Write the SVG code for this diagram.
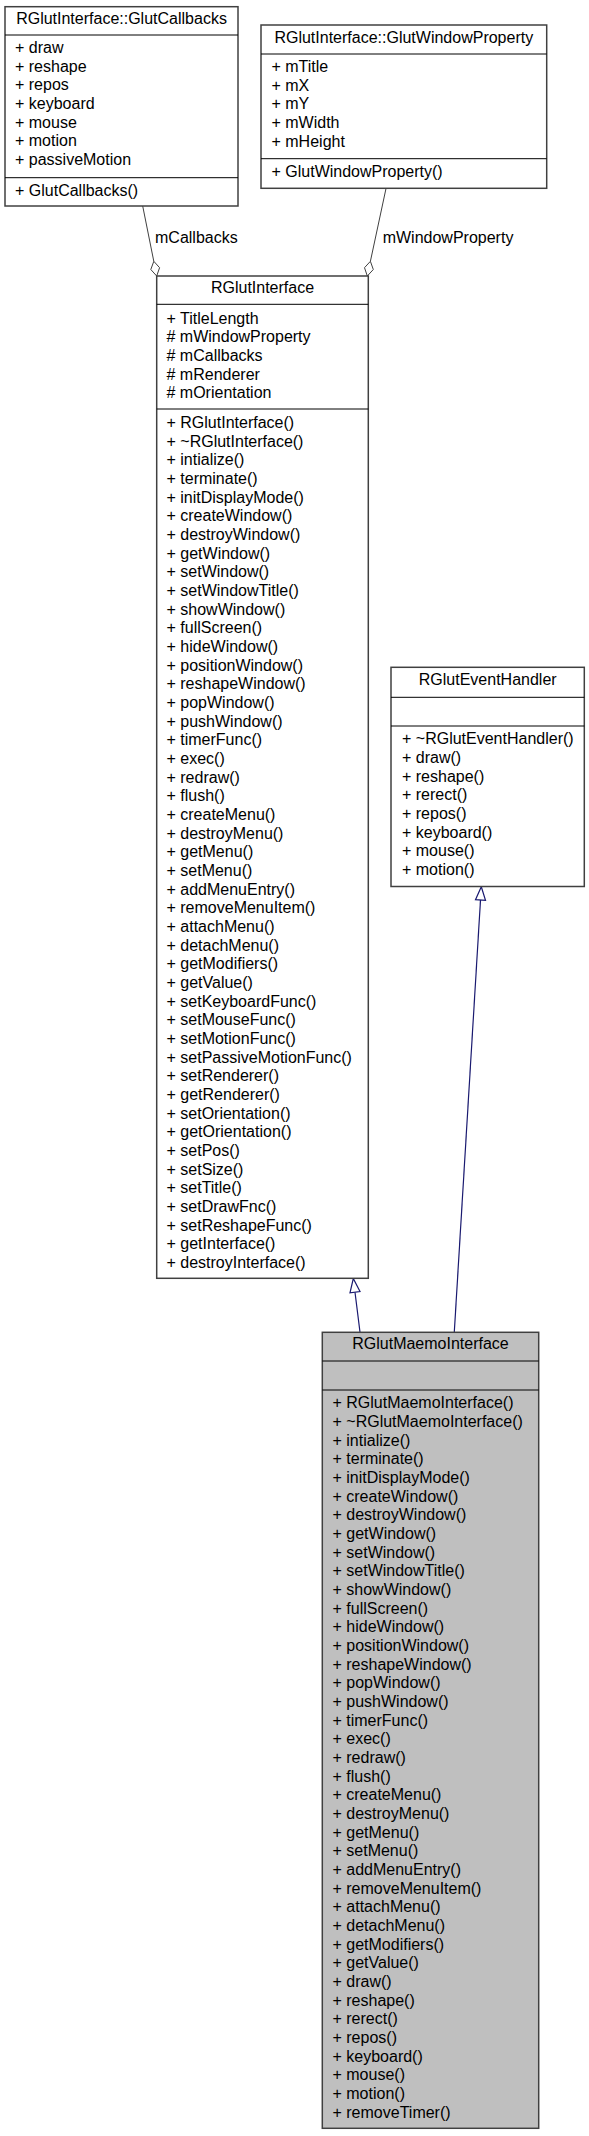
<svg xmlns="http://www.w3.org/2000/svg" width="589" height="2136" viewBox="0 0 589 2136">
<style>
text{font-family:"Liberation Sans",Arial,sans-serif;font-size:16px;fill:#000}
.hd{text-anchor:middle}
.box{fill:#fff;stroke:#404040;stroke-width:1.5}
.cur{fill:#bfbfbf;stroke:#404040;stroke-width:1.5}
.sep{stroke:#000;stroke-width:1}
.agg{fill:none;stroke:#404040;stroke-width:1}
.dia{fill:#fff;stroke:#404040;stroke-width:1}
.inh{fill:none;stroke:#191970;stroke-width:1.2}
.tri{fill:#fff;stroke:#191970;stroke-width:1.2}
</style>
<rect width="589" height="2136" fill="#fff"/>
<g id="connectors">
<path class="agg" d="M142.7,206 L153.8,261.3"/>
<polygon class="dia" points="153.8,261.3 159.6,267.7 156.7,276 150.8,269.5"/>
<text x="155" y="243.3">mCallbacks</text>
<path class="agg" d="M386,188.5 L370.4,261.3"/>
<polygon class="dia" points="370.4,261.3 373.3,269.5 367.3,276 364.5,267.7"/>
<text x="382.7" y="243.3">mWindowProperty</text>
<path class="inh" d="M360,1332 L355,1292.2"/>
<polygon class="tri" points="353.3,1278.6 360,1291.6 350,1292.8"/>
<path class="inh" d="M454.3,1332 L480.5,900"/>
<polygon class="tri" points="481.3,886.8 485.5,900.3 475.5,899.7"/>
</g>
<g id="GlutCallbacks">
<rect class="box" x="5" y="6.7" width="233" height="199.3"/>
<line class="sep" x1="5" y1="35" x2="238" y2="35"/>
<line class="sep" x1="5" y1="177.7" x2="238" y2="177.7"/>
<text class="hd" x="121.5" y="23.5">RGlutInterface::GlutCallbacks</text>
<text x="15" y="53"><tspan x="15">+ draw</tspan><tspan x="15" dy="18.67">+ reshape</tspan><tspan x="15" dy="18.67">+ repos</tspan><tspan x="15" dy="18.67">+ keyboard</tspan><tspan x="15" dy="18.67">+ mouse</tspan><tspan x="15" dy="18.67">+ motion</tspan><tspan x="15" dy="18.67">+ passiveMotion</tspan></text>
<text x="15" y="196">+ GlutCallbacks()</text>
</g>
<g id="GlutWindowProperty">
<rect class="box" x="261" y="25" width="285.7" height="163.3"/>
<line class="sep" x1="261" y1="54" x2="546.7" y2="54"/>
<line class="sep" x1="261" y1="158.7" x2="546.7" y2="158.7"/>
<text class="hd" x="403.8" y="43.3">RGlutInterface::GlutWindowProperty</text>
<text x="271.5" y="72"><tspan x="271.5">+ mTitle</tspan><tspan x="271.5" dy="18.67">+ mX</tspan><tspan x="271.5" dy="18.67">+ mY</tspan><tspan x="271.5" dy="18.67">+ mWidth</tspan><tspan x="271.5" dy="18.67">+ mHeight</tspan></text>
<text x="271.5" y="177.3">+ GlutWindowProperty()</text>
</g>
<g id="RGlutInterface">
<rect class="box" x="156.7" y="276" width="211.6" height="1002.3"/>
<line class="sep" x1="156.7" y1="304.3" x2="368.3" y2="304.3"/>
<line class="sep" x1="156.7" y1="409" x2="368.3" y2="409"/>
<text class="hd" x="262.5" y="292.7">RGlutInterface</text>
<text x="166.5" y="323.6"><tspan x="166.5">+ TitleLength</tspan><tspan x="166.5" dy="18.67"># mWindowProperty</tspan><tspan x="166.5" dy="18.67"># mCallbacks</tspan><tspan x="166.5" dy="18.67"># mRenderer</tspan><tspan x="166.5" dy="18.67"># mOrientation</tspan></text>
<text x="166.5" y="428"><tspan x="166.5">+ RGlutInterface()</tspan><tspan x="166.5" dy="18.67">+ ~RGlutInterface()</tspan><tspan x="166.5" dy="18.67">+ intialize()</tspan><tspan x="166.5" dy="18.67">+ terminate()</tspan><tspan x="166.5" dy="18.67">+ initDisplayMode()</tspan><tspan x="166.5" dy="18.67">+ createWindow()</tspan><tspan x="166.5" dy="18.67">+ destroyWindow()</tspan><tspan x="166.5" dy="18.67">+ getWindow()</tspan><tspan x="166.5" dy="18.67">+ setWindow()</tspan><tspan x="166.5" dy="18.67">+ setWindowTitle()</tspan><tspan x="166.5" dy="18.67">+ showWindow()</tspan><tspan x="166.5" dy="18.67">+ fullScreen()</tspan><tspan x="166.5" dy="18.67">+ hideWindow()</tspan><tspan x="166.5" dy="18.67">+ positionWindow()</tspan><tspan x="166.5" dy="18.67">+ reshapeWindow()</tspan><tspan x="166.5" dy="18.67">+ popWindow()</tspan><tspan x="166.5" dy="18.67">+ pushWindow()</tspan><tspan x="166.5" dy="18.67">+ timerFunc()</tspan><tspan x="166.5" dy="18.67">+ exec()</tspan><tspan x="166.5" dy="18.67">+ redraw()</tspan><tspan x="166.5" dy="18.67">+ flush()</tspan><tspan x="166.5" dy="18.67">+ createMenu()</tspan><tspan x="166.5" dy="18.67">+ destroyMenu()</tspan><tspan x="166.5" dy="18.67">+ getMenu()</tspan><tspan x="166.5" dy="18.67">+ setMenu()</tspan><tspan x="166.5" dy="18.67">+ addMenuEntry()</tspan><tspan x="166.5" dy="18.67">+ removeMenuItem()</tspan><tspan x="166.5" dy="18.67">+ attachMenu()</tspan><tspan x="166.5" dy="18.67">+ detachMenu()</tspan><tspan x="166.5" dy="18.67">+ getModifiers()</tspan><tspan x="166.5" dy="18.67">+ getValue()</tspan><tspan x="166.5" dy="18.67">+ setKeyboardFunc()</tspan><tspan x="166.5" dy="18.67">+ setMouseFunc()</tspan><tspan x="166.5" dy="18.67">+ setMotionFunc()</tspan><tspan x="166.5" dy="18.67">+ setPassiveMotionFunc()</tspan><tspan x="166.5" dy="18.67">+ setRenderer()</tspan><tspan x="166.5" dy="18.67">+ getRenderer()</tspan><tspan x="166.5" dy="18.67">+ setOrientation()</tspan><tspan x="166.5" dy="18.67">+ getOrientation()</tspan><tspan x="166.5" dy="18.67">+ setPos()</tspan><tspan x="166.5" dy="18.67">+ setSize()</tspan><tspan x="166.5" dy="18.67">+ setTitle()</tspan><tspan x="166.5" dy="18.67">+ setDrawFnc()</tspan><tspan x="166.5" dy="18.67">+ setReshapeFunc()</tspan><tspan x="166.5" dy="18.67">+ getInterface()</tspan><tspan x="166.5" dy="18.67">+ destroyInterface()</tspan></text>
</g>
<g id="RGlutEventHandler">
<rect class="box" x="391" y="667.3" width="193.3" height="219.2"/>
<line class="sep" x1="391" y1="697.3" x2="584.3" y2="697.3"/>
<line class="sep" x1="391" y1="726" x2="584.3" y2="726"/>
<text class="hd" x="487.7" y="685">RGlutEventHandler</text>
<text x="402" y="744.3"><tspan x="402">+ ~RGlutEventHandler()</tspan><tspan x="402" dy="18.67">+ draw()</tspan><tspan x="402" dy="18.67">+ reshape()</tspan><tspan x="402" dy="18.67">+ rerect()</tspan><tspan x="402" dy="18.67">+ repos()</tspan><tspan x="402" dy="18.67">+ keyboard()</tspan><tspan x="402" dy="18.67">+ mouse()</tspan><tspan x="402" dy="18.67">+ motion()</tspan></text>
</g>
<g id="RGlutMaemoInterface">
<rect class="cur" x="322.3" y="1332.3" width="216.4" height="796"/>
<line class="sep" x1="322.3" y1="1361" x2="538.7" y2="1361"/>
<line class="sep" x1="322.3" y1="1390" x2="538.7" y2="1390"/>
<text class="hd" x="430.5" y="1349.3">RGlutMaemoInterface</text>
<text x="332.5" y="1408.3"><tspan x="332.5">+ RGlutMaemoInterface()</tspan><tspan x="332.5" dy="18.67">+ ~RGlutMaemoInterface()</tspan><tspan x="332.5" dy="18.67">+ intialize()</tspan><tspan x="332.5" dy="18.67">+ terminate()</tspan><tspan x="332.5" dy="18.67">+ initDisplayMode()</tspan><tspan x="332.5" dy="18.67">+ createWindow()</tspan><tspan x="332.5" dy="18.67">+ destroyWindow()</tspan><tspan x="332.5" dy="18.67">+ getWindow()</tspan><tspan x="332.5" dy="18.67">+ setWindow()</tspan><tspan x="332.5" dy="18.67">+ setWindowTitle()</tspan><tspan x="332.5" dy="18.67">+ showWindow()</tspan><tspan x="332.5" dy="18.67">+ fullScreen()</tspan><tspan x="332.5" dy="18.67">+ hideWindow()</tspan><tspan x="332.5" dy="18.67">+ positionWindow()</tspan><tspan x="332.5" dy="18.67">+ reshapeWindow()</tspan><tspan x="332.5" dy="18.67">+ popWindow()</tspan><tspan x="332.5" dy="18.67">+ pushWindow()</tspan><tspan x="332.5" dy="18.67">+ timerFunc()</tspan><tspan x="332.5" dy="18.67">+ exec()</tspan><tspan x="332.5" dy="18.67">+ redraw()</tspan><tspan x="332.5" dy="18.67">+ flush()</tspan><tspan x="332.5" dy="18.67">+ createMenu()</tspan><tspan x="332.5" dy="18.67">+ destroyMenu()</tspan><tspan x="332.5" dy="18.67">+ getMenu()</tspan><tspan x="332.5" dy="18.67">+ setMenu()</tspan><tspan x="332.5" dy="18.67">+ addMenuEntry()</tspan><tspan x="332.5" dy="18.67">+ removeMenuItem()</tspan><tspan x="332.5" dy="18.67">+ attachMenu()</tspan><tspan x="332.5" dy="18.67">+ detachMenu()</tspan><tspan x="332.5" dy="18.67">+ getModifiers()</tspan><tspan x="332.5" dy="18.67">+ getValue()</tspan><tspan x="332.5" dy="18.67">+ draw()</tspan><tspan x="332.5" dy="18.67">+ reshape()</tspan><tspan x="332.5" dy="18.67">+ rerect()</tspan><tspan x="332.5" dy="18.67">+ repos()</tspan><tspan x="332.5" dy="18.67">+ keyboard()</tspan><tspan x="332.5" dy="18.67">+ mouse()</tspan><tspan x="332.5" dy="18.67">+ motion()</tspan><tspan x="332.5" dy="18.67">+ removeTimer()</tspan></text>
</g>
</svg>
